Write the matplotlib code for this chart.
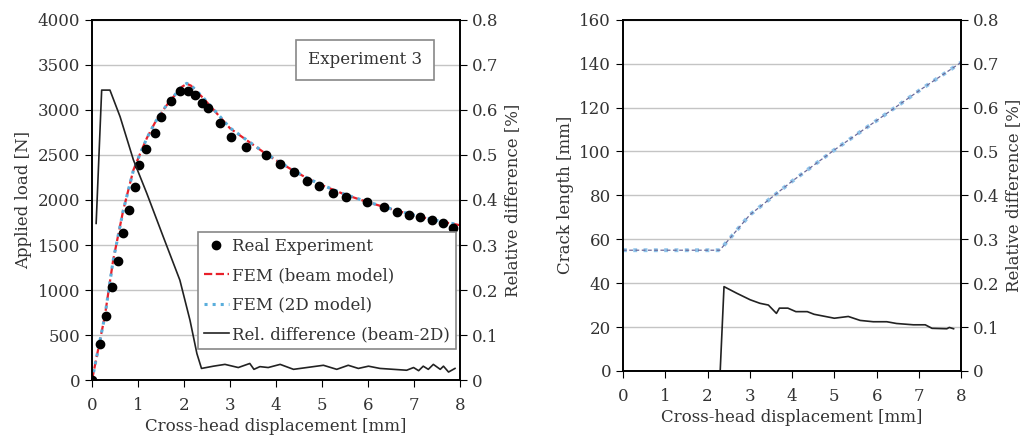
import matplotlib
matplotlib.use("Agg")
import matplotlib.pyplot as plt

plt.rcParams['font.family'] = ['DejaVu Serif']
plt.rcParams['font.size'] = 12

# ---- left panel: load vs displacement ----
exp_disp = [0, 0.17, 0.30, 0.43, 0.57, 0.67, 0.80, 0.93, 1.03, 1.17, 1.36, 1.50,
            1.72, 1.91, 2.09, 2.24, 2.40, 2.53, 2.78, 3.03, 3.35, 3.78, 4.09, 4.39,
            4.67, 4.93, 5.24, 5.52, 5.98, 6.35, 6.64, 6.89, 7.13, 7.38, 7.62, 7.85]
exp_load = [0, 400, 715, 1037, 1322, 1630, 1889, 2148, 2389, 2563, 2748, 2919,
            3100, 3215, 3215, 3167, 3081, 3026, 2859, 2704, 2593, 2496, 2404, 2311,
            2214, 2156, 2081, 2030, 1981, 1926, 1870, 1833, 1808, 1778, 1748, 1692]

fem_disp = [0, 0.28, 0.46, 0.68, 0.90, 1.05, 1.19, 1.37, 1.55, 1.70, 1.84, 1.95,
            2.06, 2.15, 2.24, 2.42, 2.71, 3.0, 3.4, 3.8, 4.1, 4.4, 4.7, 5.0, 5.5,
            6.0, 6.5, 7.0, 7.5, 8.0]
beam_load = [0, 715, 1333, 1889, 2333, 2520, 2685, 2860, 3000, 3105, 3185, 3255,
             3290, 3270, 3222, 3130, 2963, 2796, 2650, 2505, 2410, 2320, 2235, 2165,
             2060, 1975, 1900, 1830, 1770, 1720]
fem2d_load = [0, 712, 1330, 1886, 2330, 2518, 2683, 2860, 3002, 3108, 3190, 3260,
              3295, 3275, 3228, 3135, 2968, 2800, 2652, 2507, 2412, 2322, 2237, 2167,
              2062, 1977, 1902, 1832, 1772, 1722]

rd1_disp = [0.09, 0.21, 0.39, 0.61, 0.90, 1.19, 1.55, 1.91, 2.13, 2.28, 2.38, 2.64,
            2.89, 3.18, 3.43, 3.52, 3.65, 3.83, 4.09, 4.38, 4.67, 5.03, 5.32, 5.57,
            5.79, 6.01, 6.26, 6.55, 6.84, 6.99, 7.10, 7.20, 7.31, 7.42, 7.57, 7.64,
            7.75, 7.89]
rd1 = [0.348, 0.644, 0.644, 0.585, 0.489, 0.415, 0.318, 0.222, 0.133, 0.059, 0.026,
       0.031, 0.035, 0.028, 0.037, 0.024, 0.030, 0.028, 0.035, 0.024, 0.028, 0.033,
       0.024, 0.033, 0.026, 0.031, 0.026, 0.024, 0.022, 0.028, 0.021, 0.031, 0.024,
       0.035, 0.024, 0.031, 0.018, 0.026]

# ---- right panel: crack length vs displacement ----
crack_disp = [0, 2.29, 3.0, 3.99, 5.0, 6.0, 7.01, 7.99]
crack_len = [55, 55, 71.1, 86.3, 100.7, 114.1, 127.8, 140.5]

rd2_disp = [0, 2.30, 2.39, 2.69, 3.01, 3.24, 3.44, 3.63, 3.70, 3.90, 4.09, 4.36,
            4.52, 5.0, 5.33, 5.61, 5.92, 6.24, 6.47, 6.87, 7.15, 7.31, 7.66, 7.72, 7.82]
rd2 = [0, 0, 0.192, 0.177, 0.162, 0.154, 0.150, 0.131, 0.143, 0.143, 0.135, 0.135,
       0.129, 0.120, 0.124, 0.115, 0.112, 0.112, 0.108, 0.105, 0.105, 0.097, 0.096,
       0.099, 0.096]

grid_col = '#c4c4c4'
text_col = '#333333'


def style(ax, ax2):
    ax.set_xlim(0, 8)
    ax.set_xticks(range(9))
    ax.grid(axis='y', color=grid_col, lw=1)
    ax.set_axisbelow(True)
    ax2.set_ylim(0, 0.8)
    ax2.set_yticks([0, 0.1, 0.2, 0.3, 0.4, 0.5, 0.6, 0.7, 0.8])
    ax2.set_yticklabels(['0', '0.1', '0.2', '0.3', '0.4', '0.5', '0.6', '0.7', '0.8'])
    for a in (ax, ax2):
        a.tick_params(direction='out', length=5, colors='black', labelcolor=text_col)
        for s in a.spines.values():
            s.set_color('black')
            s.set_linewidth(1.2)
    ax.tick_params(axis='x', pad=7)
    ax.set_xlabel('Cross-head displacement [mm]', color=text_col, labelpad=3)
    ax2.set_ylabel('Relative difference [%]', color=text_col, labelpad=4)


fig = plt.figure(figsize=(10.28, 4.41), dpi=100)
ax = fig.add_axes([0.0895, 0.138, 0.358, 0.817])
ax2 = ax.twinx()

ax.plot(exp_disp, exp_load, 'o', color='black', ms=6, label='Real Experiment', zorder=3)
ax.plot(fem_disp, beam_load, '--', color='#e8202a', lw=1.6, label='FEM (beam model)', zorder=2)
ax.plot(fem_disp, fem2d_load, ':', color='#5aaedc', lw=2.2, label='FEM (2D model)', zorder=2)
ax2.plot(rd1_disp, rd1, '-', color='#222222', lw=1.2, label='Rel. difference (beam-2D)')
ax.set_ylim(0, 4000)
ax.set_yticks(range(0, 4001, 500))
ax.set_ylabel('Applied load [N]', color=text_col, labelpad=4)
style(ax, ax2)

h1, l1 = ax.get_legend_handles_labels()
h2, l2 = ax2.get_legend_handles_labels()
leg = ax2.legend(h1 + h2, l1 + l2, loc='lower right', bbox_to_anchor=(0.988, 0.086),
                 fancybox=False, framealpha=1, edgecolor='#888888', handlelength=1.5,
                 handletextpad=0.2, labelspacing=0.75, borderpad=0.35, borderaxespad=0,
                 labelcolor=text_col)
leg.get_frame().set_linewidth(1.2)

ax2.text(0.742, 0.889, 'Experiment 3', transform=ax2.transAxes, ha='center', va='center',
         color=text_col,
         bbox=dict(boxstyle='square,pad=0.7', fc='white', ec='#888888', lw=1.2))

# right panel
bx = fig.add_axes([0.606, 0.159, 0.329, 0.796])
bx2 = bx.twinx()
bx.plot(crack_disp, crack_len, ':', color='#8ec3ea', lw=2.8)
bx.plot(crack_disp, crack_len, '--', color='#6a6a9a', lw=0.9, dashes=(3, 2))
bx2.plot(rd2_disp, rd2, '-', color='#222222', lw=1.2)
bx.set_ylim(0, 160)
bx.set_yticks(range(0, 161, 20))
bx.set_ylabel('Crack length [mm]', color=text_col, labelpad=4)
style(bx, bx2)

fig.savefig('out.png', dpi=100)
